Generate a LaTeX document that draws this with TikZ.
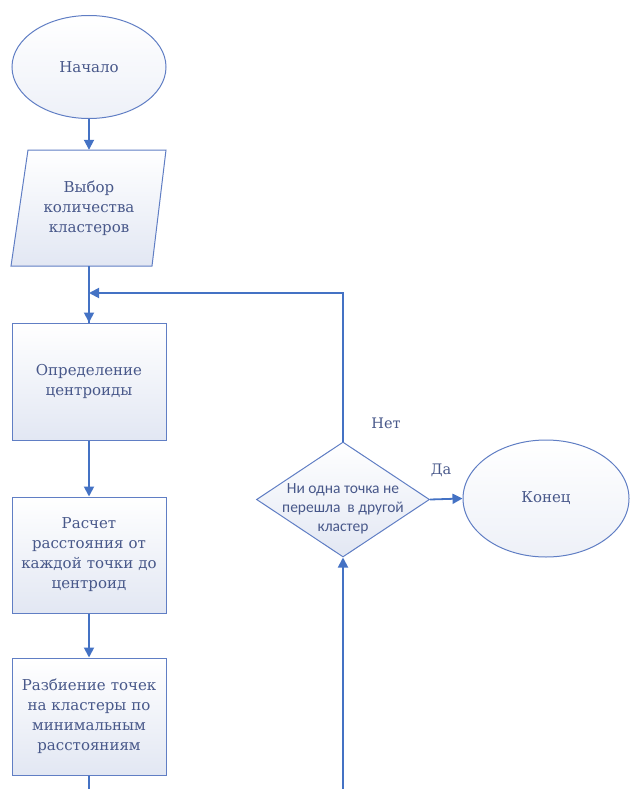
\documentclass[tikz,border=0pt]{standalone}
\usepackage{fontspec}
\setmainfont{DejaVu Serif}
\newfontfamily\serifrm{DejaVu Serif}
\newfontfamily\calibri{Carlito}
\usetikzlibrary{shapes.geometric,arrows.meta}
\definecolor{linec}{RGB}{68,114,196}
\definecolor{borderc}{RGB}{96,126,196}
\definecolor{textc}{RGB}{72,88,138}
\definecolor{fillb}{RGB}{226,231,243}
\tikzset{
  shp/.style={draw=borderc, line width=1pt, top color=white, bottom color=fillb, inner sep=0pt, align=center, text=textc, font=\serifrm\fontsize{15}{20}\selectfont},
  procbox/.style={shp, rectangle, minimum width=154pt, minimum height=117pt, text width=150pt},
  term/.style={shp, ellipse, top color=white, bottom color=fillb!60},
  conn/.style={draw=linec, line width=1.8pt},
  arr/.style={conn, -{Triangle[length=10pt,width=10pt]}},
  lbl/.style={text=textc, font=\serifrm\fontsize{14.5}{20}\selectfont, inner sep=0pt}
}
\begin{document}
\begin{tikzpicture}[x=1pt,y=-1pt]
\useasboundingbox (0,0) rectangle (629,789);
\node[term, minimum width=154pt, minimum height=103pt] (start) at (89,67) {Начало};
\path[draw=borderc, line width=1pt, top color=white, bottom color=fillb] (28,150) -- (166,150) -- (152,266) -- (11,266) -- cycle;
\node[inner sep=0pt, minimum width=140pt, minimum height=116pt, text width=140pt, align=center, text=textc, font=\serifrm\fontsize{15}{20}\selectfont] (inp) at (89,208) {Выбор\\количества\\кластеров};
\node[procbox] (b1) at (89,381.5) {Определение\\центроиды};
\node[procbox, minimum height=116pt] (b2) at (89,555) {Расчет\\расстояния от\\каждой точки до\\центроид};
\node[procbox] (b3) at (89,716.5) {Разбиение точек\\на кластеры по\\минимальным\\расстояниям};
\node[shp, diamond, shape aspect=1.5, minimum width=173pt, minimum height=115pt] (dia) at (343,499.5) {};
\node[text=textc, align=center, inner sep=0pt, font=\calibri\fontsize{15.5}{19}\selectfont] (diat) at (343,509) {Ни одна точка не\\перешла\ \ в другой\\кластер};
\node[term, minimum width=166pt, minimum height=117pt] (end) at (546,498.5) {Конец};
\node[lbl] (no) at (386,423) {Нет};
\node[lbl] (yes) at (441,470) {Да};
\coordinate (j) at (89,293);
\coordinate (bl) at (89,790);
\coordinate (br) at (343,790);
\draw[arr] (start.south) -- (inp.north);
\draw[conn] (inp.south) -- (b1.north);
\draw[arr] (j) -- (b1.north);
\draw[arr] (dia.north) |- (j);
\draw[arr] (b1.south) -- (b2.north);
\draw[arr] (b2.south) -- (b3.north);
\draw[conn] (b3.south) -- (bl);
\draw[arr] (br) -- (dia.south);
\draw[arr] (dia.east) -- (end.west);
\end{tikzpicture}
\end{document}
